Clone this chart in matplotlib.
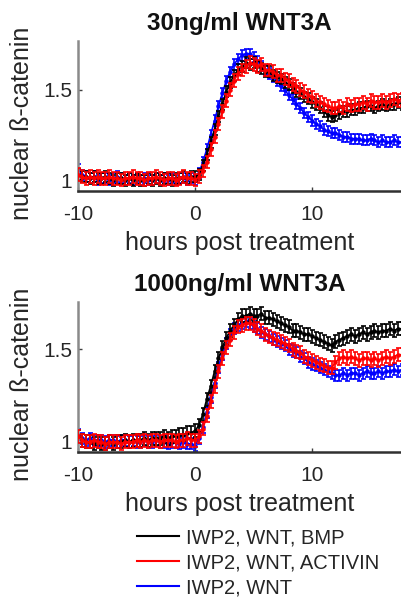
import numpy as np
import matplotlib
matplotlib.use('Agg')
import matplotlib.pyplot as plt
from matplotlib.lines import Line2D

plt.rcParams['font.family'] = ['Liberation Sans', 'DejaVu Sans']
plt.rcParams['axes.unicode_minus'] = False

# time axis: 20-min frames from -10 h
hours = np.arange(84) / 3 - 10

titles = ['30ng/ml WNT3A', '1000ng/ml WNT3A']
labels = ['IWP2, WNT, BMP', 'IWP2, WNT, ACTIVIN', 'IWP2, WNT']
colors = ['k', 'r', 'b']
x_ticks = [-10, 0, 10]
y_ticks = [1, 1.5]
y_ticklabels = ['1', '1.5']

# ---- 30 ng/ml WNT3A ----
top_bmp = [1.03, 1.02, 1.02, 1.01, 1.02, 1.01, 1.01, 1.02, 1.01, 1.00, 1.01, 1.01, 1.00, 1.01, 1.00, 1.01,
           1.00, 1.00, 1.01, 1.00, 1.01, 1.00, 1.01, 1.01, 1.00, 1.01, 1.01, 1.02, 1.01, 1.02, 1.02,
           1.03, 1.08, 1.14, 1.21, 1.28, 1.35, 1.42, 1.49, 1.54, 1.58, 1.61, 1.63, 1.65,
           1.64, 1.65, 1.63, 1.62, 1.60, 1.60, 1.58, 1.57, 1.56, 1.54, 1.53, 1.51, 1.49, 1.48, 1.46, 1.45,
           1.43, 1.42, 1.40, 1.38, 1.36, 1.35, 1.36, 1.37, 1.38, 1.38, 1.39, 1.39, 1.40, 1.40, 1.41, 1.41,
           1.40, 1.41, 1.42, 1.41, 1.42, 1.42, 1.43, 1.42]
top_act = [1.03, 1.02, 1.01, 1.02, 1.01, 1.02, 1.01, 1.01, 1.02, 1.01, 1.01, 1.00, 1.01, 1.01, 1.02, 1.01,
           1.01, 1.00, 1.01, 1.01, 1.02, 1.01, 1.00, 1.01, 1.01, 1.00, 1.01, 1.02, 1.01, 1.01, 1.00,
           1.02, 1.05, 1.10, 1.17, 1.24, 1.31, 1.38, 1.44, 1.50, 1.55, 1.59, 1.61, 1.63,
           1.65, 1.64, 1.63, 1.64, 1.61, 1.61, 1.60, 1.58, 1.58, 1.56, 1.55, 1.53, 1.52, 1.50, 1.49, 1.47,
           1.46, 1.44, 1.43, 1.42, 1.41, 1.40, 1.40, 1.41, 1.40, 1.42, 1.41, 1.42, 1.42, 1.43, 1.42, 1.44,
           1.43, 1.43, 1.44, 1.43, 1.44, 1.45, 1.44, 1.45]
top_wnt = [1.06, 1.03, 1.02, 1.01, 1.02, 1.00, 1.01, 1.01, 1.00, 1.01, 1.02, 1.01, 1.00, 1.01, 1.00, 1.01,
           1.00, 1.01, 1.00, 1.00, 1.01, 1.00, 1.01, 1.00, 1.01, 1.00, 1.01, 1.01, 1.00, 1.01, 1.00,
           1.04, 1.10, 1.17, 1.25, 1.33, 1.41, 1.48, 1.55, 1.60, 1.64, 1.67, 1.69, 1.70,
           1.70, 1.68, 1.66, 1.63, 1.61, 1.59, 1.57, 1.55, 1.52, 1.50, 1.47, 1.45, 1.42, 1.40, 1.37, 1.35,
           1.33, 1.31, 1.30, 1.28, 1.27, 1.26, 1.26, 1.25, 1.24, 1.24, 1.23, 1.23, 1.23, 1.22, 1.22, 1.23,
           1.22, 1.21, 1.22, 1.21, 1.21, 1.22, 1.21, 1.21]
top_err = [0.03, 0.035, 0.028]

# ---- 1000 ng/ml WNT3A ----
bot_bmp = [1.03, 1.01, 1.00, 1.00, 0.99, 1.00, 0.99, 0.99, 1.00, 0.99, 1.00, 1.00, 1.01, 1.00, 1.01, 1.01,
           1.01, 1.02, 1.01, 1.02, 1.02, 1.02, 1.03, 1.02, 1.03, 1.03, 1.04, 1.04, 1.05, 1.05, 1.06,
           1.09, 1.15, 1.23, 1.30, 1.38, 1.45, 1.51, 1.56, 1.60, 1.63, 1.66, 1.68, 1.68,
           1.69, 1.68, 1.68, 1.69, 1.67, 1.67, 1.66, 1.65, 1.64, 1.63, 1.62, 1.60, 1.60, 1.59, 1.58, 1.58,
           1.57, 1.56, 1.55, 1.54, 1.53, 1.52, 1.54, 1.55, 1.56, 1.57, 1.58, 1.57, 1.58, 1.59, 1.58, 1.59,
           1.60, 1.59, 1.60, 1.60, 1.61, 1.60, 1.61, 1.61]
bot_act = [1.03, 1.01, 1.00, 1.00, 1.01, 1.00, 1.00, 0.99, 1.00, 1.00, 1.00, 0.99, 1.00, 1.00, 1.00, 1.01,
           1.00, 1.01, 1.00, 1.01, 1.01, 1.00, 1.01, 1.01, 1.01, 1.00, 1.01, 1.01, 1.02, 1.01, 1.01,
           1.03, 1.07, 1.14, 1.22, 1.30, 1.38, 1.45, 1.51, 1.55, 1.59, 1.62, 1.63, 1.64,
           1.64, 1.63, 1.61, 1.60, 1.58, 1.57, 1.56, 1.55, 1.54, 1.53, 1.52, 1.50, 1.49, 1.48, 1.46, 1.45,
           1.44, 1.43, 1.42, 1.41, 1.40, 1.40, 1.43, 1.45, 1.46, 1.45, 1.46, 1.45, 1.44, 1.45, 1.45, 1.44,
           1.45, 1.44, 1.45, 1.46, 1.45, 1.46, 1.47, 1.47]
bot_wnt = [1.04, 1.02, 1.01, 1.02, 1.01, 1.01, 1.01, 1.00, 1.01, 1.01, 1.00, 1.01, 1.01, 1.00, 1.01, 1.00,
           1.00, 1.01, 1.00, 1.00, 1.01, 1.00, 1.00, 0.99, 1.00, 1.00, 0.99, 1.00, 0.99, 0.99, 0.98,
           1.02, 1.08, 1.16, 1.24, 1.32, 1.40, 1.47, 1.53, 1.58, 1.61, 1.63, 1.64, 1.65,
           1.64, 1.62, 1.61, 1.59, 1.58, 1.57, 1.55, 1.54, 1.53, 1.52, 1.50, 1.49, 1.48, 1.46, 1.45, 1.43,
           1.42, 1.41, 1.40, 1.39, 1.38, 1.37, 1.36, 1.36, 1.37, 1.36, 1.37, 1.37, 1.36, 1.37, 1.38, 1.37,
           1.37, 1.38, 1.37, 1.38, 1.38, 1.39, 1.38, 1.39]
bot_err = [0.035, 0.035, 0.03]

panels = [
    (titles[0], [top_bmp, top_act, top_wnt], top_err, (0.94, 1.77)),
    (titles[1], [bot_bmp, bot_act, bot_wnt], bot_err, (0.946, 1.754)),
]

W, H = 401, 601
fig = plt.figure(figsize=(W / 100, H / 100), dpi=100)
text_col = '#262626'

ax_rects = [
    [78 / W, 1 - 191 / H, (W - 78) / W, 150 / H],
    [78 / W, 1 - 452 / H, (W - 78) / W, 150 / H],
]
zorders = [2, 3, 1]

for rect, (title, series, errs, ylim) in zip(ax_rects, panels):
    ax = fig.add_axes(rect)
    for vals, err, col, z in zip(series, errs, colors, zorders):
        ax.errorbar(hours, vals, yerr=err, fmt='.-', color=col, ms=4.5, lw=1.2,
                    elinewidth=1.2, capsize=1.8, capthick=1.2, zorder=z)
    ax.set_xlim(-10, 17.6)
    ax.set_ylim(*ylim)
    ax.set_xticks(x_ticks)
    ax.set_yticks(y_ticks)
    ax.set_yticklabels(y_ticklabels)
    ax.tick_params(direction='in', length=3, width=1, colors='#404040',
                   labelcolor=text_col, labelsize=15)
    ax.tick_params(axis='x', pad=10)
    ax.tick_params(axis='y', pad=4)
    for s in ['top', 'right']:
        ax.spines[s].set_visible(False)
    ax.spines['left'].set_color('#8a8a8a')
    ax.spines['left'].set_linewidth(1.8)
    ax.spines['bottom'].set_color('#303030')
    ax.spines['bottom'].set_linewidth(1.8)
    ax.set_title(title, fontsize=17.5, fontweight='bold', color='#111111', pad=8)
    ax.set_xlabel('hours post treatment', fontsize=18, color=text_col)
    ax.set_ylabel('nuclear ß-catenin', fontsize=18, color=text_col)
    ax.xaxis.set_label_coords(0.5, -0.265)
    ax.yaxis.set_label_coords(-0.135, 0.45)

handles = [Line2D([], [], color=c, lw=1.5) for c in colors]
fig.legend(handles, labels, loc='upper left', bbox_to_anchor=(137 / W, 1 - 528 / H),
           frameon=False, fontsize=14.5, handlelength=2.1, handletextpad=0.35,
           labelspacing=0.3, borderpad=0, borderaxespad=0, labelcolor=text_col)

fig.savefig('out.png', dpi=100)
